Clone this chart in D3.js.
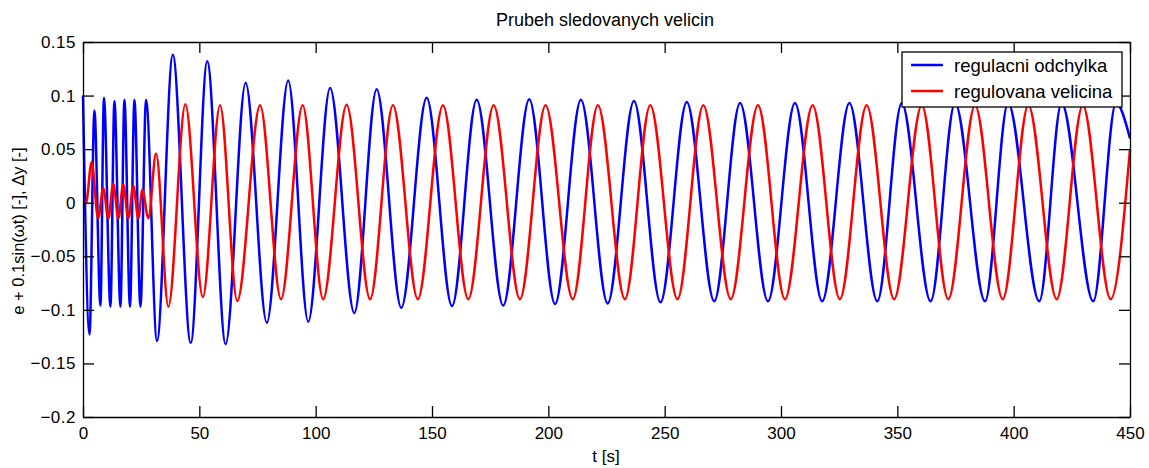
<!DOCTYPE html>
<html>
<head>
<meta charset="utf-8">
<script src="https://cdn.jsdelivr.net/npm/d3@7"></script>
<style>
  body { margin: 0; background: #fff; }
  text { font-family: "Liberation Sans", Arial, sans-serif; fill: #000; }
</style>
</head>
<body>
<svg id="chart" width="1149" height="468"></svg>
<script>
// [t, value] at each turning point
const odchylka = [
  [0, 0.100], [2.8, -0.123], [4.9, 0.086], [7.5, -0.096], [9.0, 0.098], [11.8, -0.097],
  [13.5, 0.095], [16.1, -0.097], [17.8, 0.096], [20.2, -0.097], [22.1, 0.096], [24.7, -0.097],
  [27.1, 0.096], [31.8, -0.129], [38.6, 0.138], [46.3, -0.131], [53.4, 0.132], [61.3, -0.132],
  [69.9, 0.112], [79.0, -0.112], [88.2, 0.114], [96.8, -0.111], [106.2, 0.107], [116.6, -0.103],
  [126.2, 0.106], [136.8, -0.098], [147.7, 0.098], [158.6, -0.0965], [169.2, 0.096], [180.6, -0.096],
  [191.8, 0.0965], [202.9, -0.0945], [214.0, 0.096], [225.5, -0.094], [236.8, 0.095], [248.2, -0.093],
  [259.5, 0.094], [271.3, -0.092], [282.4, 0.093], [294.4, -0.092], [306.0, 0.093], [317.7, -0.092],
  [329.4, 0.093], [341.4, -0.092], [351.9, 0.093], [364.3, -0.092], [374.8, 0.093], [387.7, -0.092],
  [397.6, 0.093], [411.0, -0.092], [420.6, 0.093], [434.2, -0.092], [444.0, 0.093], [450, 0.06]
];

const velicina = [
  [0, 0], [1.3, 0], [3.7, 0.038], [6.5, -0.0145], [8.7, 0.0135], [10.9, -0.0145],
  [13.0, 0.018], [15.2, -0.0145], [17.3, 0.017], [19.5, -0.0145], [21.6, 0.016], [23.8, -0.0145],
  [25.5, 0.012], [28.1, -0.0145], [31.4, 0.046], [36.7, -0.097], [44.0, 0.092], [51.5, -0.088],
  [58.9, 0.091], [66.3, -0.0917], [76.1, 0.091], [85.1, -0.090], [94.4, 0.091], [103.2, -0.090],
  [113.3, 0.0915], [123.4, -0.090], [133.2, 0.091], [143.9, -0.090], [154.7, 0.091], [165.6, -0.090],
  [176.5, 0.091], [187.8, -0.090], [198.8, 0.091], [210.5, -0.090], [221.3, 0.091], [232.9, -0.090],
  [243.8, 0.091], [255.5, -0.090], [266.6, 0.091], [278.4, -0.090], [290.1, 0.091], [301.7, -0.090],
  [313.6, 0.091], [325.3, -0.090], [336.8, 0.091], [348.6, -0.090], [360.5, 0.091], [371.9, -0.090],
  [383.4, 0.091], [395.3, -0.090], [406.3, 0.091], [418.5, -0.090], [429.7, 0.091], [441.7, -0.090],
  [450, 0.05]
];

const xTicks = [0, 50, 100, 150, 200, 250, 300, 350, 400, 450];
const yTicks = [-0.2, -0.15, -0.1, -0.05, 0, 0.05, 0.1, 0.15];
const seriesNames = ["regulacni odchylka", "regulovana velicina"];
const seriesColors = ["#0000ff", "#ff0000"];

class Chart {
  constructor() {
    this.svg = d3.select("#chart");
    this.x = d3.scaleLinear().domain([0, 450]).range([83, 1130]);
    this.y = d3.scaleLinear().domain([-0.2, 0.15]).range([417, 42]);
  }

  drawLines() {
    let line = d3.line()
      .x(d => this.x(d[0]))
      .y(d => this.y(d[1]))
      .curve(d3.curveMonotoneX);

    this.svg.append("g")
      .selectAll("path")
      .data([odchylka, velicina])
      .enter()
      .append("path")
      .attr("d", line)
      .attr("fill", "none")
      .attr("stroke", (d, i) => seriesColors[i])
      .attr("stroke-width", 2.5);
  }

  drawAxes() {
    let tick = 11;
    let fmt = d => d3.format("")(+d.toFixed(2));

    // MATLAB style: ticks inside, box on
    let bottom = this.svg.append("g")
      .attr("transform", "translate(0,417)")
      .call(d3.axisBottom(this.x).tickValues(xTicks).tickSizeInner(-tick).tickSizeOuter(0).tickPadding(10));
    let top = this.svg.append("g")
      .attr("transform", "translate(0,42)")
      .call(d3.axisTop(this.x).tickValues(xTicks).tickSizeInner(-tick).tickSizeOuter(0).tickFormat(""));
    let left = this.svg.append("g")
      .attr("transform", "translate(83,0)")
      .call(d3.axisLeft(this.y).tickValues(yTicks).tickSizeInner(-tick).tickSizeOuter(0).tickPadding(7).tickFormat(fmt));
    let right = this.svg.append("g")
      .attr("transform", "translate(1130,0)")
      .call(d3.axisRight(this.y).tickValues(yTicks).tickSizeInner(-tick).tickSizeOuter(0).tickFormat(""));

    [bottom, top, left, right].forEach(g => {
      g.selectAll("path, line").attr("stroke", "#000").attr("stroke-width", 1.3);
      g.selectAll("text").style("font-size", "17px").attr("fill", "#000");
    });
    left.selectAll("text").style("letter-spacing", "0.5px");

    this.svg.append("text")
      .attr("x", 605).attr("y", 26)
      .attr("text-anchor", "middle")
      .style("font-size", "18px")
      .text("Prubeh sledovanych velicin");

    this.svg.append("text")
      .attr("x", 606).attr("y", 462)
      .attr("text-anchor", "middle")
      .style("font-size", "17px")
      .text("t [s]");

    this.svg.append("text")
      .attr("transform", "translate(24,231) rotate(-90)")
      .attr("text-anchor", "middle")
      .style("font-size", "16.5px")
      .text("e + 0.1sin(\u03c9t) [-], \u0394y [-]");
  }

  drawLegend() {
    let g = this.svg.append("g").attr("transform", "translate(902,52)");
    g.append("rect")
      .attr("width", 220).attr("height", 55)
      .attr("fill", "#fff").attr("stroke", "#000").attr("stroke-width", 1.3);

    let rows = g.selectAll(".row")
      .data(seriesNames)
      .enter()
      .append("g")
      .attr("class", "row")
      .attr("transform", (d, i) => `translate(0,${13 + i * 26})`);
    rows.append("line")
      .attr("x1", 9).attr("x2", 41)
      .attr("stroke", (d, i) => seriesColors[i])
      .attr("stroke-width", 2.5);
    rows.append("text")
      .attr("x", 52).attr("y", 7)
      .style("font-size", "18.5px")
      .text(d => d);
  }
}

let chart = new Chart();
chart.drawLines();
chart.drawAxes();
chart.drawLegend();
</script>
</body>
</html>
